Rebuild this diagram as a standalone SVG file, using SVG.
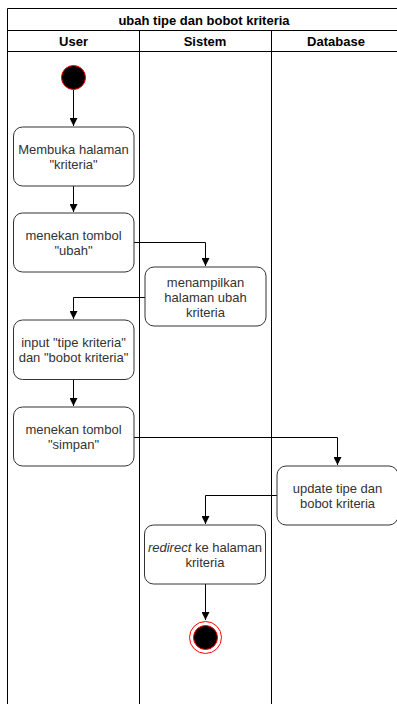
<svg xmlns="http://www.w3.org/2000/svg" width="397" height="704" viewBox="0 0 397 704">
<style>
.lane{fill:none;stroke:#000;stroke-width:1}
.hd{font-family:"Liberation Sans",Arial,sans-serif;font-size:13px;font-weight:bold;fill:#000;text-anchor:middle}
.box{fill:#fff;stroke:#333;stroke-width:1}
.t{font-family:"Liberation Sans",Arial,sans-serif;font-size:13px;fill:#333;text-anchor:middle}
.c{fill:none;stroke:#000;stroke-width:1}
</style>
<defs>
<marker id="ah" viewBox="0 0 8 8" refX="8" refY="4" markerWidth="8" markerHeight="8" markerUnits="userSpaceOnUse" orient="auto">
<path d="M0,0 L8,4 L0,8 Z" fill="#000"/>
</marker>
</defs>
<rect x="0" y="0" width="397" height="704" fill="#fff"/>
<g id="pool">
<path class="lane" d="M7.5,704 V8.5 H401 M7.5,30.5 H401 M7.5,51.5 H401 M139.5,30.5 V704 M271.5,30.5 V704"/>
<text class="hd" x="204" y="25">ubah tipe dan bobot kriteria</text>
<text class="hd" x="73.5" y="46">User</text>
<text class="hd" x="205" y="46">Sistem</text>
<text class="hd" x="336" y="46">Database</text>
</g>
<g id="connectors">
<path class="c" d="M73.5,90 V126" marker-end="url(#ah)"/>
<path class="c" d="M73.5,186 V212" marker-end="url(#ah)"/>
<path class="c" d="M134,242.5 H205.5 V266" marker-end="url(#ah)"/>
<path class="c" d="M145,297.5 H73.5 V319" marker-end="url(#ah)"/>
<path class="c" d="M73.5,380 V406" marker-end="url(#ah)"/>
<path class="c" d="M134,437.5 H337.5 V465" marker-end="url(#ah)"/>
<path class="c" d="M277,495.5 H205.5 V524" marker-end="url(#ah)"/>
<path class="c" d="M205.5,584 V620" marker-end="url(#ah)"/>
</g>
<g id="start">
<circle cx="73.5" cy="77.5" r="12" fill="#000" stroke="#f00" stroke-width="1"/>
</g>
<g id="membuka">
<rect class="box" x="13.5" y="127" width="120.5" height="59" rx="9"/>
<text class="t" x="73.5" y="153.5">Membuka halaman</text>
<text class="t" x="73.5" y="168.5">"kriteria"</text>
</g>
<g id="ubah">
<rect class="box" x="13.5" y="213" width="120.5" height="59" rx="9"/>
<text class="t" x="73.5" y="239.5">menekan tombol</text>
<text class="t" x="73.5" y="254.5">"ubah"</text>
</g>
<g id="menampilkan">
<rect class="box" x="145" y="267" width="121" height="59" rx="9"/>
<text class="t" x="205.5" y="286.5">menampilkan</text>
<text class="t" x="205.5" y="301.5">halaman ubah</text>
<text class="t" x="205.5" y="316.5">kriteria</text>
</g>
<g id="input">
<rect class="box" x="13.5" y="320" width="120.5" height="59.5" rx="9"/>
<text class="t" x="73.5" y="347">input "tipe kriteria"</text>
<text class="t" x="73.5" y="362">dan "bobot kriteria"</text>
</g>
<g id="simpan">
<rect class="box" x="13.5" y="407" width="120.5" height="59" rx="9"/>
<text class="t" x="73.5" y="433.5">menekan tombol</text>
<text class="t" x="73.5" y="448.5">"simpan"</text>
</g>
<g id="update">
<rect class="box" x="277" y="466" width="121" height="59" rx="9"/>
<text class="t" x="337.5" y="492.5">update tipe dan</text>
<text class="t" x="337.5" y="507.5">bobot kriteria</text>
</g>
<g id="redirect">
<rect class="box" x="144.5" y="525" width="121" height="59" rx="9"/>
<text class="t" x="205" y="551.5"><tspan font-style="italic">redirect</tspan> ke halaman</text>
<text class="t" x="205" y="566.5">kriteria</text>
</g>
<g id="end">
<circle cx="205.5" cy="637.5" r="16" fill="#fff" stroke="#f00" stroke-width="1"/>
<circle cx="205.5" cy="637.5" r="12" fill="#000" stroke="#f00" stroke-width="1"/>
</g>
</svg>
